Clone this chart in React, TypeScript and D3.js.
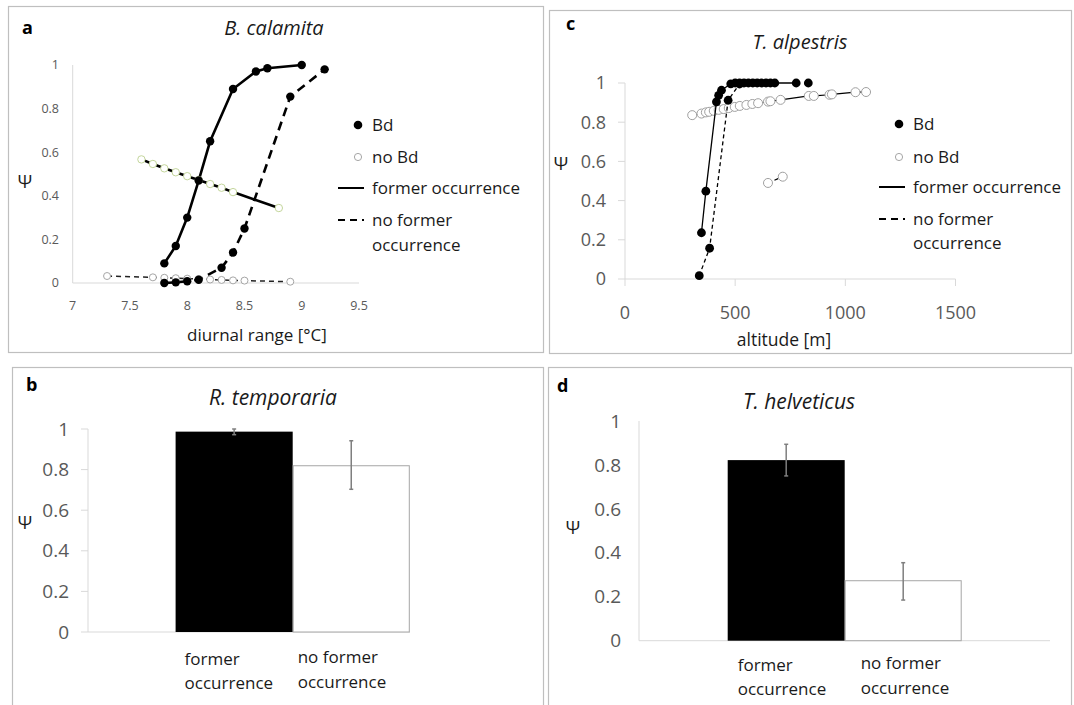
import * as d3 from "d3";

const FONT = "'Open Sans', 'Noto Sans', sans-serif";
const ink = "#1a1a1a";
const tickInk = "#595959";
const axisGray = "#d9d9d9";
const frameGray = "#bfbfbf";

// ---- panel a: B. calamita, psi against diurnal range [°C]
const calamitaXTicks = [7, 7.5, 8, 8.5, 9, 9.5];
const psiTicks = [0, 0.2, 0.4, 0.6, 0.8, 1];
const calamitaBdFormer = [[7.8, 0.09], [7.9, 0.17], [8.0, 0.3], [8.1, 0.47], [8.2, 0.65], [8.4, 0.89], [8.6, 0.97], [8.7, 0.985], [9.0, 1.0]];
const calamitaBdNoFormer = [[7.8, 0.0], [7.9, 0.003], [8.0, 0.008], [8.1, 0.015], [8.3, 0.07], [8.4, 0.14], [8.5, 0.25], [8.9, 0.855], [9.2, 0.98]];
const calamitaNoBdFormer = [[7.6, 0.567], [7.7, 0.546], [7.8, 0.526], [7.9, 0.508], [8.0, 0.49], [8.1, 0.472], [8.2, 0.454], [8.3, 0.437], [8.4, 0.417], [8.8, 0.344]];
const calamitaNoBdNoFormer = [[7.3, 0.032], [7.7, 0.026], [7.8, 0.024], [7.9, 0.022], [8.0, 0.02], [8.1, 0.018], [8.2, 0.016], [8.3, 0.014], [8.4, 0.012], [8.5, 0.011], [8.9, 0.006]];

// ---- panel c: T. alpestris, psi against altitude [m]
const alpestrisXTicks = [0, 500, 1000, 1500];
const alpestrisBdFormer = [[347, 0.236], [367, 0.448], [415, 0.904], [425, 0.937], [438, 0.963], [480, 0.996], [500, 1], [520, 1], [540, 1], [560, 1], [580, 1], [600, 1], [620, 1], [640, 1], [660, 1], [680, 1], [777, 1]];
const alpestrisBdNoFormer = [[337, 0.017], [384, 0.157], [468, 0.912], [520, 0.995]];
const alpestrisBdLone = [[832, 1]];
const alpestrisNoBdFormer = [[305, 0.836], [347, 0.844], [367, 0.85], [382, 0.853], [403, 0.858], [425, 0.863], [448, 0.867], [471, 0.872], [498, 0.878], [521, 0.883], [551, 0.888], [578, 0.893], [604, 0.897], [649, 0.905], [660, 0.907], [706, 0.914], [834, 0.934], [857, 0.934], [928, 0.94], [939, 0.942], [1046, 0.953], [1094, 0.954]];
const alpestrisNoBdNoFormer = [[649, 0.49], [716, 0.522]];

// ---- panels b and d: bar charts
const occurrenceCats = ["former occurrence", "no former occurrence"];
const temporariaPsi = [0.987, 0.819];
const temporariaLow = [0.972, 0.703];
const temporariaHigh = [1.0, 0.942];
const helveticusPsi = [0.822, 0.273];
const helveticusLow = [0.75, 0.185];
const helveticusHigh = [0.894, 0.355];

const legendItems = ["Bd", "no Bd", "former occurrence", "no former", "occurrence"];

function Frame({ x, y, w, h }) {
  return <rect x={x + 0.5} y={y + 0.5} width={w} height={h} fill="white" stroke={frameGray} strokeWidth={1.2} />;
}

function Legend({ x, ys, size }) {
  // ys: Bd, no Bd, former, no former, occurrence
  const tx = x + 14;
  return (
    <g fontFamily={FONT} fontSize={size} fill={ink}>
      <circle cx={x} cy={ys[0]} r={4.3} fill="#000" />
      <circle cx={x} cy={ys[1]} r={3.6} fill="white" stroke="#a6a6a6" />
      <line x1={x - 20} x2={x + 6} y1={ys[2]} y2={ys[2]} stroke="#000" strokeWidth={2} />
      <line x1={x - 20} x2={x + 6} y1={ys[3]} y2={ys[3]} stroke="#000" strokeWidth={2} strokeDasharray="7,5" />
      {legendItems.map((t, i) => (
        <text key={t} x={tx} y={ys[i]} dy="0.35em">{t}</text>
      ))}
    </g>
  );
}

function PanelA() {
  const x = d3.scaleLinear().domain([7, 9.5]).range([72.7, 359]);
  const y = d3.scaleLinear().domain([0, 1]).range([283, 65]);
  const line = d3.line().x((d) => x(d[0])).y((d) => y(d[1]));
  return (
    <g>
      <Frame x={8} y={6} w={535} h={346} />
      <text x={22} y={34} fontFamily={FONT} fontWeight="bold" fontSize={18} fill="#000">a</text>
      <text x={274} y={35} textAnchor="middle" fontFamily={FONT} fontStyle="italic" fontSize={20} fill={ink}>B. calamita</text>
      <line x1={x(7)} x2={x(7)} y1={y(0)} y2={y(1)} stroke={axisGray} />
      <line x1={x(7)} x2={x(9.5)} y1={y(0)} y2={y(0)} stroke={axisGray} />
      <g fontFamily={FONT} fontSize={12.5} fill={tickInk}>
        {psiTicks.map((t) => (
          <text key={t} x={59} y={y(t)} dy="0.35em" textAnchor="end">{t}</text>
        ))}
        {calamitaXTicks.map((t) => (
          <text key={t} x={x(t)} y={306} dy="0.35em" textAnchor="middle">{t}</text>
        ))}
      </g>
      <text x={25} y={182} dy="0.35em" textAnchor="middle" fontFamily={FONT} fontSize={18} fill={ink}>Ψ</text>
      <text x={257} y={335} dy="0.35em" textAnchor="middle" fontFamily={FONT} fontSize={17} fill={ink}>diurnal range [°C]</text>

      <path d={line(calamitaNoBdNoFormer)} fill="none" stroke="#222" strokeWidth={1.5} strokeDasharray="5,4" />
      <path d={line(calamitaBdNoFormer)} fill="none" stroke="#000" strokeWidth={2.6} strokeDasharray="9,6" />
      <path d={line(calamitaBdFormer)} fill="none" stroke="#000" strokeWidth={2.6} />
      <path d={line(calamitaNoBdFormer)} fill="none" stroke="#000" strokeWidth={2.6} />
      {calamitaNoBdNoFormer.map((d, i) => (
        <circle key={"nn" + i} cx={x(d[0])} cy={y(d[1])} r={3.5} fill="white" stroke="#a6a6a6" />
      ))}
      {calamitaNoBdFormer.map((d, i) => (
        <circle key={"nf" + i} cx={x(d[0])} cy={y(d[1])} r={3.7} fill="white" stroke="#c4d69c" />
      ))}
      {calamitaBdNoFormer.concat(calamitaBdFormer).map((d, i) => (
        <circle key={"b" + i} cx={x(d[0])} cy={y(d[1])} r={4.2} fill="#000" />
      ))}
      <Legend x={358} ys={[125, 157, 188, 220, 245]} size={17} />
    </g>
  );
}

function PanelC() {
  const x = d3.scaleLinear().domain([0, 1500]).range([625, 955.5]);
  const y = d3.scaleLinear().domain([0, 1]).range([279, 83]);
  const line = d3.line().x((d) => x(d[0])).y((d) => y(d[1]));
  return (
    <g>
      <Frame x={549} y={10} w={522} h={343} />
      <text x={566} y={30} fontFamily={FONT} fontWeight="bold" fontSize={18} fill="#000">c</text>
      <text x={800} y={49} textAnchor="middle" fontFamily={FONT} fontStyle="italic" fontSize={20} fill={ink}>T. alpestris</text>
      <line x1={x(0)} x2={x(0)} y1={y(0)} y2={y(1)} stroke={axisGray} />
      <line x1={x(0)} x2={x(1500)} y1={y(0)} y2={y(0)} stroke={axisGray} />
      {psiTicks.map((t) => (
        <line key={"yt" + t} x1={x(0) - 7} x2={x(0)} y1={y(t)} y2={y(t)} stroke={axisGray} />
      ))}
      {alpestrisXTicks.map((t) => (
        <line key={"xt" + t} x1={x(t)} x2={x(t)} y1={y(0)} y2={y(0) + 7} stroke={axisGray} />
      ))}
      <g fontFamily={FONT} fontSize={18} fill={tickInk}>
        {psiTicks.map((t) => (
          <text key={t} x={606} y={y(t)} dy="0.35em" textAnchor="end">{t}</text>
        ))}
        {alpestrisXTicks.map((t) => (
          <text key={t} x={x(t)} y={313} dy="0.35em" textAnchor="middle">{t}</text>
        ))}
      </g>
      <text x={561} y={164} dy="0.35em" textAnchor="middle" fontFamily={FONT} fontSize={18} fill={ink}>Ψ</text>
      <text x={784} y={340} dy="0.35em" textAnchor="middle" fontFamily={FONT} fontSize={17.5} fill={ink}>altitude [m]</text>

      <path d={line(alpestrisNoBdFormer)} fill="none" stroke="#000" strokeWidth={1.2} />
      <path d={line(alpestrisNoBdNoFormer)} fill="none" stroke="#000" strokeWidth={1.2} strokeDasharray="4,3" />
      {alpestrisNoBdFormer.concat(alpestrisNoBdNoFormer).map((d, i) => (
        <circle key={"n" + i} cx={x(d[0])} cy={y(d[1])} r={4.5} fill="white" stroke="#a0a0a0" />
      ))}
      <path d={line(alpestrisBdFormer)} fill="none" stroke="#000" strokeWidth={1.3} />
      <path d={line(alpestrisBdNoFormer)} fill="none" stroke="#000" strokeWidth={1.3} strokeDasharray="4,3" />
      {alpestrisBdFormer.concat(alpestrisBdNoFormer, alpestrisBdLone).map((d, i) => (
        <circle key={"b" + i} cx={x(d[0])} cy={y(d[1])} r={4.4} fill="#000" />
      ))}
      <Legend x={899} ys={[124, 157, 187, 219, 243]} size={17} />
    </g>
  );
}

function BarPanel({ frame, letter, letterPos, title, titlePos, psi, low, high, yRange, band, axisX, axisEnd, tickRight, yTickMarks, psiPos, labelOffsets, labelYs }) {
  const y = d3.scaleLinear().domain([0, 1]).range(yRange);
  const x = d3.scaleBand().domain(occurrenceCats).range(band).padding(0);
  const bw = x.bandwidth();
  return (
    <g>
      <Frame x={frame[0]} y={frame[1]} w={frame[2]} h={frame[3]} />
      <text x={letterPos[0]} y={letterPos[1]} fontFamily={FONT} fontWeight="bold" fontSize={18} fill="#000">{letter}</text>
      <text x={titlePos[0]} y={titlePos[1]} textAnchor="middle" fontFamily={FONT} fontStyle="italic" fontSize={21} fill={ink}>{title}</text>
      <line x1={axisX} x2={axisX} y1={y(0)} y2={y(1)} stroke={axisGray} />
      <line x1={axisX} x2={axisEnd} y1={y(0)} y2={y(0)} stroke={axisGray} />
      {yTickMarks && psiTicks.map((t) => (
        <line key={"tm" + t} x1={axisX - 7} x2={axisX} y1={y(t)} y2={y(t)} stroke={axisGray} />
      ))}
      <g fontFamily={FONT} fontSize={19} fill={tickInk}>
        {psiTicks.map((t) => (
          <text key={t} x={tickRight} y={y(t)} dy="0.35em" textAnchor="end">{t}</text>
        ))}
      </g>
      <text x={psiPos[0]} y={psiPos[1]} dy="0.35em" textAnchor="middle" fontFamily={FONT} fontSize={18} fill={ink}>Ψ</text>
      {occurrenceCats.map((c, i) => (
        <rect key={c} x={x(c) + (i ? 0.5 : 0)} y={y(psi[i])} width={bw - (i ? 1 : 0)} height={y(0) - y(psi[i])}
          fill={i ? "white" : "#000"} stroke={i ? "#a6a6a6" : "none"} />
      ))}
      {occurrenceCats.map((c, i) => {
        const cx = x(c) + bw / 2;
        return (
          <g key={"e" + c} stroke="#7f7f7f" strokeWidth={1.5}>
            <line x1={cx} x2={cx} y1={y(low[i])} y2={y(high[i])} />
            <line x1={cx - 2} x2={cx + 2} y1={y(low[i])} y2={y(low[i])} />
            <line x1={cx - 2} x2={cx + 2} y1={y(high[i])} y2={y(high[i])} />
          </g>
        );
      })}
      <g fontFamily={FONT} fontSize={17} fill={ink}>
        {occurrenceCats.map((c, i) => {
          const words = c === "former occurrence" ? ["former", "occurrence"] : ["no former", "occurrence"];
          return words.map((w, j) => (
            <text key={c + j} x={x(c) + labelOffsets[i]} y={labelYs[i][j]} dy="0.35em">{w}</text>
          ));
        })}
      </g>
    </g>
  );
}

export default function App() {
  return (
    <svg width={1074} height={705} style={{ position: "absolute", left: 0, top: 0, background: "white" }}>
      <rect width={1074} height={705} fill="white" />
      <PanelA />
      <PanelC />
      <BarPanel frame={[12, 367, 531, 360]} letter="b" letterPos={[26, 391]} title="R. temporaria" titlePos={[273, 405]}
        psi={temporariaPsi} low={temporariaLow} high={temporariaHigh} yRange={[632, 429]} band={[175.6, 409.8]}
        axisX={88} axisEnd={410} tickRight={69} yTickMarks={true} psiPos={[25, 523]}
        labelOffsets={[9, 5]} labelYs={[[659, 683], [657, 682]]} />
      <BarPanel frame={[548, 367, 523, 360]} letter="d" letterPos={[557, 392]} title="T. helveticus" titlePos={[799, 409]}
        psi={helveticusPsi} low={helveticusLow} high={helveticusHigh} yRange={[640.7, 421]} band={[727.7, 961.7]}
        axisX={639} axisEnd={1050} tickRight={621} yTickMarks={false} psiPos={[573, 528]}
        labelOffsets={[10, 16]} labelYs={[[665, 689], [663, 688]]} />
    </svg>
  );
}
